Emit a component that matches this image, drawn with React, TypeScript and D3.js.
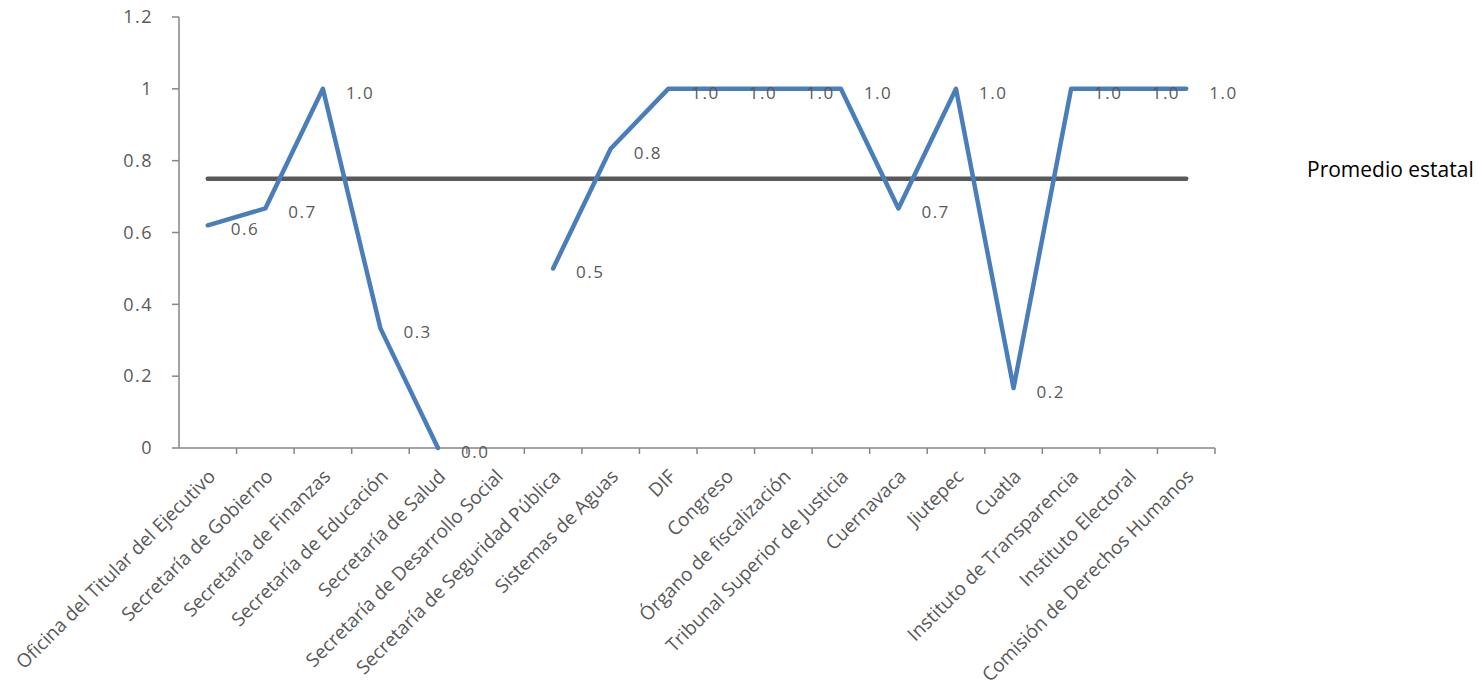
import React from "react";
import * as d3 from "d3";

const categories: string[] = [
  "Oficina del Titular del Ejecutivo",
  "Secretaría de Gobierno",
  "Secretaría de Finanzas",
  "Secretaría de Educación",
  "Secretaría de Salud",
  "Secretaría de Desarrollo Social",
  "Secretaría de Seguridad Pública",
  "Sistemas de Aguas",
  "DIF",
  "Congreso",
  "Órgano de fiscalización",
  "Tribunal Superior de Justicia",
  "Cuernavaca",
  "Jiutepec",
  "Cuatla",
  "Instituto de Transparencia",
  "Instituto Electoral",
  "Comisión de Derechos Humanos",
];

const values: (number | null)[] = [
  0.62, 0.667, 1.0, 0.333, 0.0, null, 0.5, 0.833, 1.0, 1.0, 1.0, 1.0, 0.667, 1.0,
  0.167, 1.0, 1.0, 1.0,
];

const promedio: number[] = categories.map(() => 0.75);
const yTicks: number[] = [0, 0.2, 0.4, 0.6, 0.8, 1, 1.2];
const legendLabel = "Promedio estatal";

const W = 1478;
const H = 686;
const left = 179;
const right = 1215;
const top = 17;
const bottom = 448;

export default function App() {
  const x = d3.scaleBand<string>().domain(categories).range([left, right]);
  const y = d3.scaleLinear().domain([0, 1.2]).range([bottom, top]);
  const cx = (c: string) => (x(c) as number) + x.bandwidth() / 2;

  const line = d3
    .line<number | null>()
    .defined((d) => d !== null)
    .x((_, i) => cx(categories[i]))
    .y((d) => y(d as number));

  const avgLine = d3
    .line<number>()
    .x((_, i) => cx(categories[i]))
    .y((d) => y(d));

  const axisColor = "#868686";
  const textColor = "#595959";
  const font = "'Open Sans', sans-serif";

  return (
    <svg
      width={W}
      height={H}
      style={{ position: "absolute", left: 0, top: 0, background: "#fff" }}
    >
      {/* Y axis */}
      <line x1={left} x2={left} y1={top} y2={bottom} stroke={axisColor} strokeWidth={1.5} />
      {yTicks.map((t) => (
        <g key={t}>
          <line x1={left - 7} x2={left} y1={y(t)} y2={y(t)} stroke={axisColor} strokeWidth={1.5} />
          <text
            x={left - 26}
            y={y(t)}
            dy="0.35em"
            textAnchor="end"
            fontFamily={font}
            fontSize={18}
            letterSpacing={1.5}
            fill={textColor}
          >
            {String(t)}
          </text>
        </g>
      ))}
      {/* X axis */}
      <line x1={left} x2={right} y1={bottom} y2={bottom} stroke={axisColor} strokeWidth={1.5} />
      {categories.map((c, i) => (
        <line
          key={"t" + i}
          x1={(x(c) as number) + x.bandwidth()}
          x2={(x(c) as number) + x.bandwidth()}
          y1={bottom}
          y2={bottom + 6}
          stroke={axisColor}
          strokeWidth={1.5}
        />
      ))}
      {categories.map((c, i) => (
        <text
          key={"c" + i}
          transform={`translate(${cx(c) + 4},${bottom + 25}) rotate(-45)`}
          textAnchor="end"
          dy="0.35em"
          fontFamily={font}
          fontSize={19}
          fill={textColor}
        >
          {c}
        </text>
      ))}
      {/* Average line */}
      <path
        d={avgLine(promedio) || ""}
        fill="none"
        stroke="#595959"
        strokeWidth={4.5}
        strokeLinecap="round"
      />
      {/* Series */}
      <path
        d={line(values) || ""}
        fill="none"
        stroke="#4a7ebb"
        strokeWidth={4.5}
        strokeLinejoin="round"
        strokeLinecap="round"
      />
      {values.map((v, i) =>
        v === null ? null : (
          <text
            key={"l" + i}
            x={cx(categories[i]) + 23}
            y={y(v) + 4}
            dy="0.35em"
            fontFamily={font}
            fontSize={17}
            letterSpacing={1.5}
            fill={textColor}
          >
            {v.toFixed(1)}
          </text>
        )
      )}
      {/* Legend */}
      <text
        x={1307}
        y={170}
        dy="0.35em"
        fontFamily={font}
        fontSize={21}
        fill="#000"
      >
        {legendLabel}
      </text>
    </svg>
  );
}
